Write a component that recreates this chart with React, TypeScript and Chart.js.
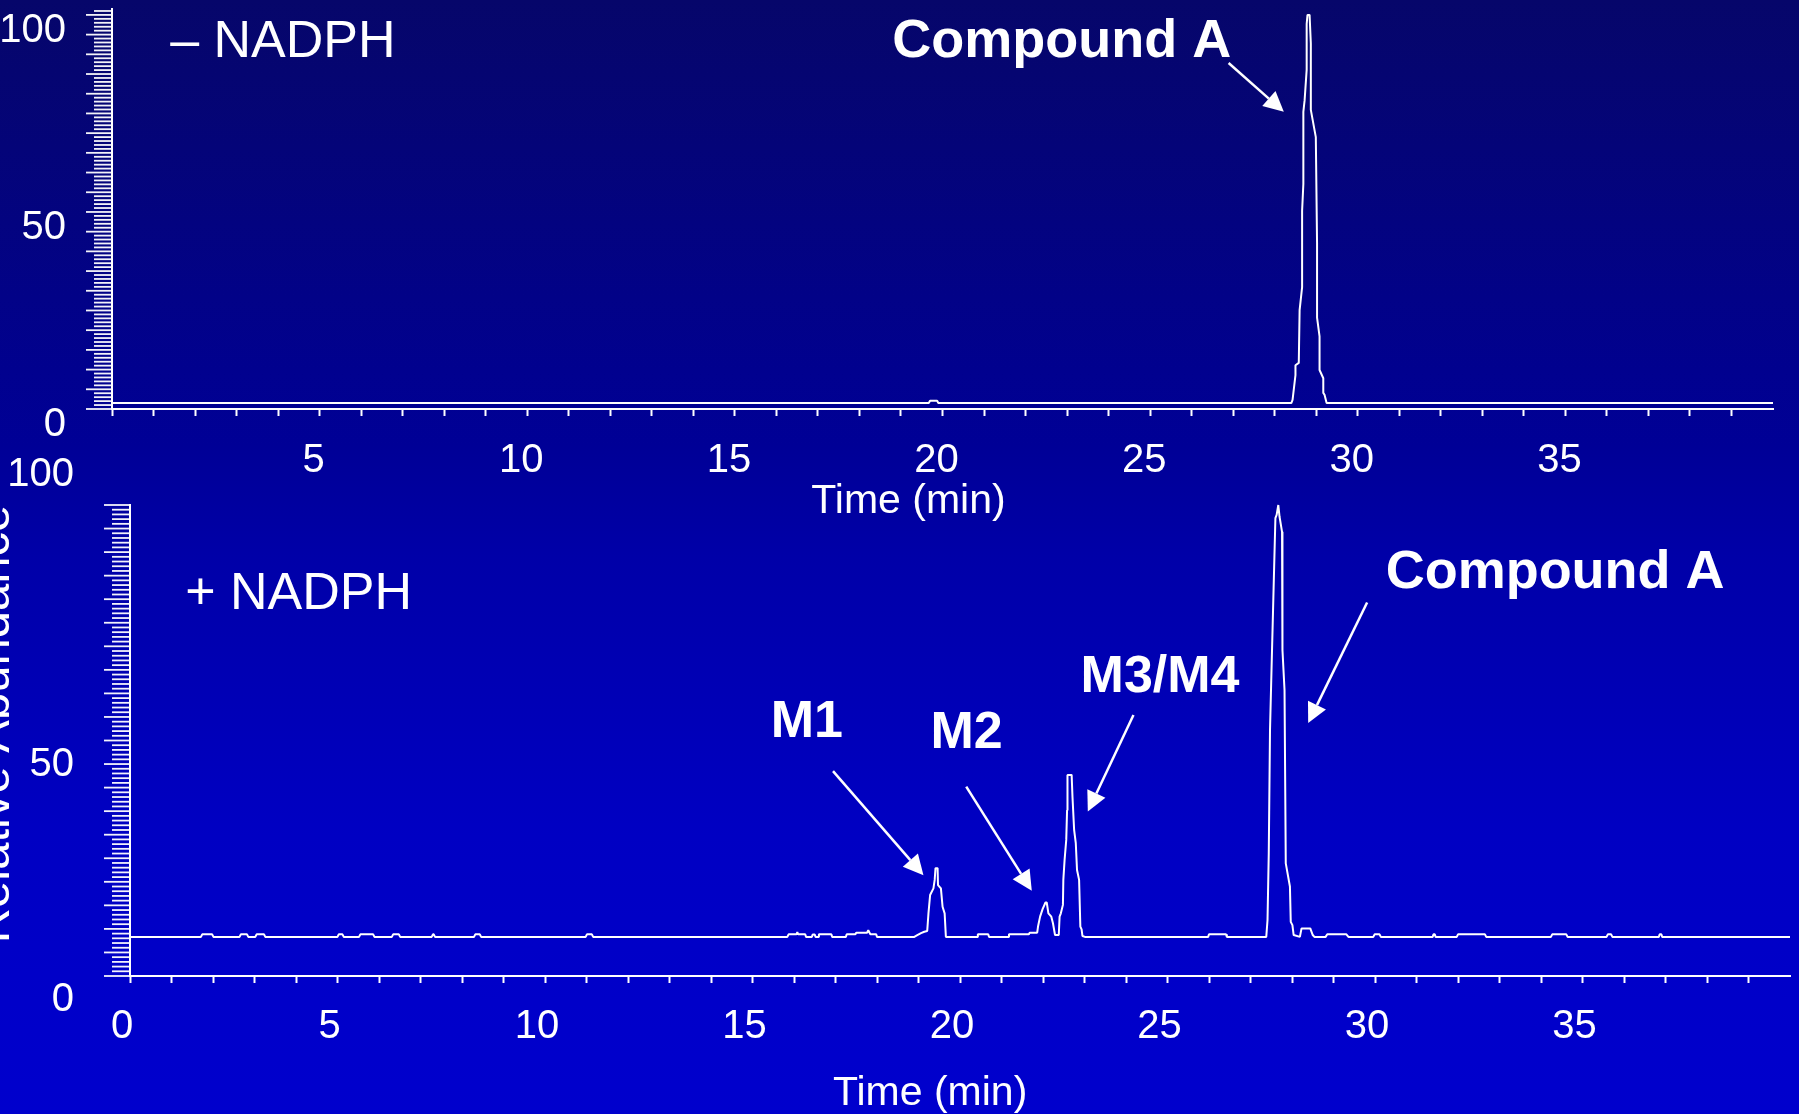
import { useEffect, useRef } from 'react';
import { Chart, registerables } from 'chart.js';

Chart.register(...registerables);

const FONT = '"Liberation Sans", Arial, Helvetica, sans-serif';

// Incubation without NADPH: retention time (min) and relative abundance (%)
const minusTime = [
  0, 19.67, 19.7, 19.87, 19.9,
  28.4, 28.43, 28.5, 28.5, 28.58, 28.6, 28.66, 28.66, 28.69, 28.69, 28.72,
  28.77, 28.77, 28.79, 28.84, 28.87, 28.87, 28.99, 29.02, 29.02, 29.08,
  29.08, 29.17, 29.17, 29.2, 29.25, 40,
];
const minusAbundance = [
  1.5, 1.5, 2.1, 2.1, 1.5,
  1.5, 2.3, 8.6, 11.1, 11.7, 25.1, 30.9, 50.3, 57.1, 75.4, 78.3,
  86.1, 97.7, 100, 100, 92.8, 75.9, 69.0, 42.2, 23.2, 18.4,
  9.9, 7.8, 4.1, 3.6, 1.5, 1.5,
];

// Incubation with NADPH: retention time (min) and relative abundance (%)
const plusTime = [
  0,
  1.71, 1.74, 1.98, 2.01, 2.64, 2.67, 2.82, 2.85, 3.02, 3.05, 3.23, 3.26,
  5.0, 5.03, 5.12, 5.15, 5.52, 5.55, 5.86, 5.89, 6.31, 6.34, 6.48, 6.51,
  7.27, 7.3, 7.32, 7.35, 8.29, 8.32, 8.43, 8.46, 10.98, 11.01, 11.13, 11.16,
  15.84, 15.87, 16.06, 16.08, 16.1, 16.27, 16.29,
  16.43, 16.45, 16.5, 16.52, 16.58, 16.6, 16.9, 16.92,
  17.25, 17.27, 17.48, 17.5, 17.76, 17.79, 17.82, 17.84, 17.98, 18.0,
  // M1
  18.9, 18.96, 19.06, 19.14, 19.21, 19.24, 19.28, 19.36, 19.39, 19.41,
  19.46, 19.47, 19.54, 19.58, 19.63, 19.66,
  20.41, 20.43, 20.68, 20.7, 21.16, 21.18, 21.66, 21.68, 21.86,
  // M2
  21.88, 21.93, 21.99, 22.06, 22.09, 22.13, 22.2, 22.24, 22.29, 22.38,
  // M3/M4
  22.4, 22.43, 22.48, 22.49, 22.52, 22.56, 22.58, 22.59, 22.69, 22.71,
  22.75, 22.79, 22.82, 22.87, 22.9, 22.93, 22.95, 23.01,
  25.98, 26.0, 26.41, 26.43,
  // Compound A
  27.38, 27.41, 27.44, 27.47, 27.5, 27.57, 27.6, 27.63, 27.67, 27.7,
  27.76, 27.77, 27.82, 27.85, 27.95, 27.97, 28.01, 28.04, 28.19,
  28.23, 28.44, 28.5, 28.54, 28.81, 28.85, 29.31, 29.36,
  29.96, 29.99, 30.11, 30.14, 31.39, 31.41, 31.44, 31.46,
  31.97, 32.0, 32.65, 32.68, 34.24, 34.27, 34.61, 34.64,
  35.58, 35.61, 35.69, 35.72, 36.84, 36.86, 36.9, 36.92,
  40,
];
const plusAbundance = [
  8.3,
  8.3, 8.85, 8.85, 8.3, 8.3, 8.85, 8.85, 8.3, 8.3, 8.85, 8.85, 8.3,
  8.3, 8.85, 8.85, 8.3, 8.3, 8.85, 8.85, 8.3, 8.3, 8.85, 8.85, 8.3,
  8.3, 8.85, 8.85, 8.3, 8.3, 8.85, 8.85, 8.3, 8.3, 8.85, 8.85, 8.3,
  8.3, 8.85, 8.85, 9.3, 8.85, 8.85, 8.3,
  8.3, 8.8, 8.8, 8.3, 8.3, 8.85, 8.85, 8.3,
  8.3, 8.85, 8.85, 9.2, 9.2, 9.7, 9.2, 8.85, 8.85, 8.3,
  // M1
  8.3, 8.6, 9.1, 9.4, 9.55, 13.3, 17.2, 18.6, 20.4, 22.9,
  22.9, 19.3, 18.6, 14.7, 13.3, 8.3,
  8.3, 8.85, 8.85, 8.3, 8.3, 8.85, 8.85, 9.2, 9.2,
  // M2
  10.5, 12.6, 14.2, 15.6, 15.6, 13.3, 12.6, 11.2, 8.7, 8.7,
  // M3/M4
  12.6, 13.3, 15.1, 20.4, 24.6, 28.9, 35.2, 42.7, 42.7, 38.1,
  31.0, 28.2, 22.5, 20.4, 10.5, 9.9, 8.5, 8.3,
  8.3, 8.85, 8.85, 8.3,
  // Compound A
  8.3, 11.9, 26.0, 52.2, 62.8, 86.9, 97.2, 97.9, 100, 97.5,
  94.3, 69.2, 60.7, 23.9, 19.0, 11.5, 10.8, 8.7, 8.3,
  10.1, 10.1, 8.7, 8.3, 8.3, 8.85, 8.85, 8.3,
  8.3, 8.85, 8.85, 8.3, 8.3, 8.85, 8.85, 8.3,
  8.3, 8.85, 8.85, 8.3, 8.3, 8.85, 8.85, 8.3,
  8.3, 8.85, 8.85, 8.3, 8.3, 8.85, 8.85, 8.3,
  8.3,
];

// Axis labels
const timeLabels = [0, 5, 10, 15, 20, 25, 30, 35];
const abundanceLabels = [0, 50, 100];
const timeRange = 40;

type Note = { text: string; at: [number, number]; align: CanvasTextAlign; bold: boolean; size: number };
type Arrow = { from: [number, number]; to: [number, number] };

const minusNotes: Note[] = [
  { text: '\u2013 NADPH', at: [1.4, 89.3], align: 'left', bold: false, size: 52 },
  { text: 'Compound A', at: [22.87, 89.3], align: 'center', bold: true, size: 54 },
];
const minusArrows: Arrow[] = [{ from: [26.89, 87.8], to: [28.22, 75.4] }];

const plusNotes: Note[] = [
  { text: '+ NADPH', at: [1.33, 78.0], align: 'left', bold: false, size: 52 },
  { text: 'M1', at: [16.31, 50.7], align: 'center', bold: true, size: 52 },
  { text: 'M2', at: [20.16, 48.4], align: 'center', bold: true, size: 52 },
  { text: 'M3/M4', at: [24.82, 60.3], align: 'center', bold: true, size: 52 },
  { text: 'Compound A', at: [34.34, 82.4], align: 'center', bold: true, size: 54 },
];
const plusArrows: Arrow[] = [
  { from: [16.94, 43.5], to: [19.12, 21.4] },
  { from: [20.15, 40.2], to: [21.73, 18.1] },
  { from: [24.18, 55.4], to: [23.08, 34.9] },
  { from: [29.81, 79.3], to: [28.39, 53.7] },
];

type Panel = {
  time: number[];
  abundance: number[];
  yMax: number;
  axisWidth: number;
  axisHeight: number;
  pad: { top: number; right: number; bottom: number; left: number };
  yLabelPadding: number;
  yLabelOffset: number;
  yLabel: (v: number) => string | string[];
  xLabelPadding: number;
  xLabelOffset: number;
  firstTimeLabel: number;
  notes: Note[];
  arrows: Arrow[];
  xTitle: { at: number; drop: number };
  yTitle?: { at: number; gap: number };
};

const zeroPadding = (s: any) => {
  s.paddingLeft = 0;
  s.paddingRight = 0;
  s.paddingTop = 0;
  s.paddingBottom = 0;
};

// Ruler-style tick marks along the abundance axis: one per unit, longer every 5.
const ruler = {
  id: 'ruler',
  afterDraw(chart: any) {
    const { ctx, chartArea } = chart;
    const y = chart.scales.y;
    ctx.save();
    ctx.strokeStyle = 'rgba(255,255,255,0.95)';
    ctx.lineWidth = 1.8;
    for (let v = 0; v <= y.max + 1e-6; v += 1) {
      const py = y.getPixelForValue(v);
      const len = v % 5 === 0 ? 26 : 18;
      ctx.beginPath();
      ctx.moveTo(chartArea.left - len, py);
      ctx.lineTo(chartArea.left, py);
      ctx.stroke();
    }
    ctx.restore();
  },
};

const annotate = (p: Panel) => ({
  id: 'annotate',
  afterDraw(chart: any) {
    const { ctx, chartArea } = chart;
    const x = chart.scales.x;
    const y = chart.scales.y;
    ctx.save();
    ctx.fillStyle = '#fff';
    ctx.strokeStyle = '#fff';
    ctx.textBaseline = 'alphabetic';

    p.notes.forEach((n) => {
      ctx.font = `${n.bold ? 'bold ' : ''}${n.size}px ${FONT}`;
      ctx.textAlign = n.align;
      ctx.fillText(n.text, x.getPixelForValue(n.at[0]), y.getPixelForValue(n.at[1]));
    });

    p.arrows.forEach((a) => {
      const x0 = x.getPixelForValue(a.from[0]);
      const y0 = y.getPixelForValue(a.from[1]);
      const x1 = x.getPixelForValue(a.to[0]);
      const y1 = y.getPixelForValue(a.to[1]);
      const ang = Math.atan2(y1 - y0, x1 - x0);
      const head = 20;
      const half = 10;
      const bx = x1 - head * Math.cos(ang);
      const by = y1 - head * Math.sin(ang);
      ctx.lineWidth = 2.5;
      ctx.beginPath();
      ctx.moveTo(x0, y0);
      ctx.lineTo(bx, by);
      ctx.stroke();
      ctx.beginPath();
      ctx.moveTo(x1, y1);
      ctx.lineTo(bx + half * Math.sin(ang), by - half * Math.cos(ang));
      ctx.lineTo(bx - half * Math.sin(ang), by + half * Math.cos(ang));
      ctx.closePath();
      ctx.fill();
    });

    // Axis titles
    ctx.font = `41px ${FONT}`;
    ctx.textAlign = 'center';
    ctx.fillText('Time (min)', x.getPixelForValue(p.xTitle.at), chartArea.bottom + p.xTitle.drop);

    if (p.yTitle) {
      ctx.font = `49px ${FONT}`;
      ctx.translate(chartArea.left - p.yTitle.gap, y.getPixelForValue(p.yTitle.at));
      ctx.rotate(-Math.PI / 2);
      ctx.textAlign = 'center';
      ctx.fillText('Relative Abundance', 0, 0);
    }
    ctx.restore();
  },
});

function makeChart(canvas: HTMLCanvasElement, p: Panel) {
  const minuteMarks: number[] = [];
  for (let m = 0; m < timeRange; m += 1) minuteMarks.push(m);

  return new Chart(canvas, {
    type: 'line',
    data: {
      datasets: [
        {
          data: p.time.map((t, i) => ({ x: t, y: p.abundance[i] })),
          borderColor: '#ffffff',
          borderWidth: 2,
          borderJoinStyle: 'bevel',
          pointRadius: 0,
          tension: 0,
          fill: false,
          clip: false as any,
        },
      ],
    },
    options: {
      responsive: false,
      animation: false,
      events: [],
      layout: { padding: p.pad },
      plugins: { legend: { display: false }, tooltip: { enabled: false } },
      scales: {
        x: {
          type: 'linear',
          min: 0,
          max: timeRange,
          afterBuildTicks: (s: any) => {
            s.ticks = minuteMarks.map((v) => ({ value: v }));
          },
          afterFit: (s: any) => {
            s.height = p.axisHeight;
            zeroPadding(s);
          },
          border: { display: true, color: '#ffffff', width: 2 },
          grid: { drawOnChartArea: false, drawTicks: true, tickLength: 7, tickWidth: 2, tickColor: '#ffffff' },
          ticks: {
            autoSkip: false,
            maxRotation: 0,
            minRotation: 0,
            color: '#ffffff',
            font: { family: FONT, size: 40, lineHeight: 1.2 },
            padding: p.xLabelPadding,
            labelOffset: p.xLabelOffset,
            callback: (v: any) => (timeLabels.includes(v) && v >= p.firstTimeLabel ? String(v) : ''),
          },
        },
        y: {
          type: 'linear',
          min: 0,
          max: p.yMax,
          afterBuildTicks: (s: any) => {
            s.ticks = abundanceLabels.map((v) => ({ value: v }));
          },
          afterFit: (s: any) => {
            s.width = p.axisWidth;
            zeroPadding(s);
          },
          border: { display: true, color: '#ffffff', width: 2 },
          grid: { drawOnChartArea: false, drawTicks: false },
          ticks: {
            color: '#ffffff',
            font: { family: FONT, size: 40, lineHeight: 1.35 },
            padding: p.yLabelPadding,
            labelOffset: p.yLabelOffset,
            callback: (v: any) => p.yLabel(v),
          },
        },
      },
    } as any,
    plugins: [ruler, annotate(p)],
  });
}

const TOP_W = 1799;
const TOP_H = 530;
const BOTTOM_LEFT = -40;
const BOTTOM_TOP = 440;
const BOTTOM_W = 1839;
const BOTTOM_H = 674;

export default function App() {
  const topRef = useRef<HTMLCanvasElement>(null);
  const bottomRef = useRef<HTMLCanvasElement>(null);

  useEffect(() => {
    const top = makeChart(topRef.current!, {
      time: minusTime,
      abundance: minusAbundance,
      yMax: 101.5,
      axisWidth: 112,
      axisHeight: 121,
      pad: { top: 9, right: 26, bottom: 0, left: 0 },
      yLabelPadding: 46,
      yLabelOffset: 16,
      yLabel: (v) => String(v),
      xLabelPadding: 21,
      xLabelOffset: -6,
      firstTimeLabel: 5,
      notes: minusNotes,
      arrows: minusArrows,
      xTitle: { at: 19.18, drop: 104 },
    });
    const bottom = makeChart(bottomRef.current!, {
      time: plusTime,
      abundance: plusAbundance,
      yMax: 100,
      axisWidth: 170,
      axisHeight: 138,
      pad: { top: 65, right: 9, bottom: 0, left: 0 },
      yLabelPadding: 56,
      yLabelOffset: 24,
      // the top label is set above the frame
      yLabel: (v) => (v === 100 ? ['100', '', ''] : String(v)),
      xLabelPadding: 20,
      xLabelOffset: -8,
      firstTimeLabel: 0,
      notes: plusNotes,
      arrows: plusArrows,
      xTitle: { at: 19.28, drop: 129 },
      yTitle: { at: 53.5, gap: 121 },
    });
    return () => {
      top.destroy();
      bottom.destroy();
    };
  }, []);

  return (
    <div
      style={{
        position: 'fixed',
        left: 0,
        top: 0,
        width: 1799,
        height: 1114,
        overflow: 'hidden',
        background:
          'linear-gradient(180deg, rgb(6,6,106) 0%, rgb(0,0,150) 40%, rgb(0,0,168) 50%, rgb(0,0,195) 75%, rgb(0,0,205) 100%)',
      }}
    >
      <canvas
        ref={topRef}
        width={TOP_W}
        height={TOP_H}
        style={{ position: 'absolute', left: 0, top: 0, width: TOP_W, height: TOP_H }}
      />
      <canvas
        ref={bottomRef}
        width={BOTTOM_W}
        height={BOTTOM_H}
        style={{ position: 'absolute', left: BOTTOM_LEFT, top: BOTTOM_TOP, width: BOTTOM_W, height: BOTTOM_H }}
      />
    </div>
  );
}
